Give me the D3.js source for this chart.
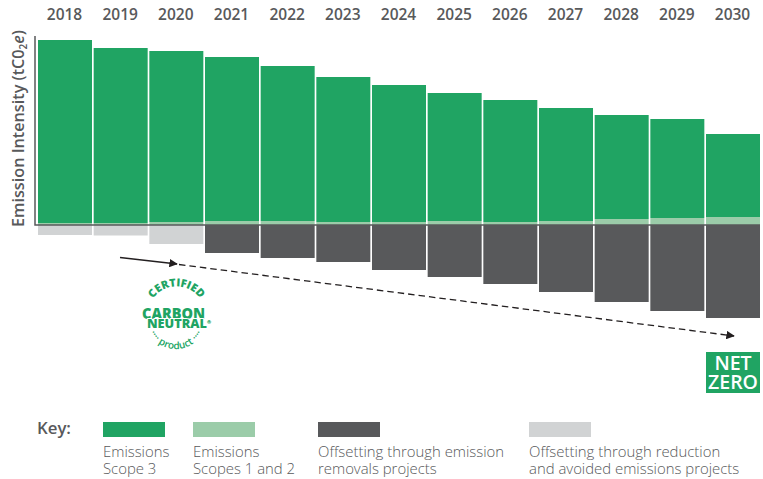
<!DOCTYPE html>
<html>
<head>
<meta charset="utf-8">
<script src="https://cdn.jsdelivr.net/npm/d3@7"></script>
<style>
  html, body { margin: 0; padding: 0; background: #fff; }
  svg { display: block; font-family: "Open Sans", sans-serif; }
</style>
</head>
<body>
<div id="chart_div"></div>
<script>
var years = [2018, 2019, 2020, 2021, 2022, 2023, 2024, 2025, 2026, 2027, 2028, 2029, 2030];
var scope3 = [183, 175, 171, 164, 155, 145, 137, 128, 122, 113, 104, 99, 83];
var scope12 = [2, 2, 3, 4, 4, 3, 3, 4, 3, 4, 6, 7, 8];
var removals = [0, 0, 0, 28, 33, 37, 45, 52, 59, 67, 77, 86, 93];
var avoided = [10, 10.5, 19, 0, 0, 0, 0, 0, 0, 0, 0, 0, 0];

var keyLabels = [
    ["Emissions", "Scope 3"],
    ["Emissions", "Scopes 1 and 2"],
    ["Offsetting through emission", "removals projects"],
    ["Offsetting through reduction", "and avoided emissions projects"]
];
var colors = ["#20a463", "#9bcca9", "#58595b", "#d1d3d4"];

var width = 763, height = 479;

var svg = d3.select("#chart_div").append("svg")
    .attr("width", width)
    .attr("height", height)
    .attr("viewBox", [0, 0, width, height]);

var x = d3.scaleBand().domain(years).range([38, 760]).paddingInner(0.03);
var y = d3.scaleLinear().domain([-100, 190]).range([325, 35]);

// positive stack
svg.append("g").selectAll("rect").data(years).join("rect")
    .attr("x", d => x(d))
    .attr("width", x.bandwidth())
    .attr("y", (d, i) => y(scope3[i] + scope12[i]))
    .attr("height", (d, i) => y(scope12[i]) - y(scope3[i] + scope12[i]))
    .attr("fill", colors[0]);

svg.append("g").selectAll("rect").data(years).join("rect")
    .attr("x", d => x(d))
    .attr("width", x.bandwidth())
    .attr("y", (d, i) => y(scope12[i]))
    .attr("height", (d, i) => y(0) - y(scope12[i]))
    .attr("fill", colors[1]);

// offsets below the line
svg.append("g").selectAll("rect").data(years).join("rect")
    .attr("x", d => x(d))
    .attr("width", x.bandwidth())
    .attr("y", y(0))
    .attr("height", (d, i) => y(-removals[i]) - y(0))
    .attr("fill", colors[2]);

svg.append("g").selectAll("rect").data(years).join("rect")
    .attr("x", d => x(d))
    .attr("width", x.bandwidth())
    .attr("y", y(0))
    .attr("height", (d, i) => y(-avoided[i]) - y(0))
    .attr("fill", colors[3]);

// axes
svg.append("path")
    .attr("d", d3.line()([[35, 36], [35, y(0)], [760, y(0)]]))
    .attr("fill", "none")
    .attr("stroke", "#58595b")
    .attr("stroke-width", 1.5);

svg.append("g")
    .attr("transform", "translate(-0.5,19.5)")
    .call(d3.axisTop(x).tickSize(0).tickPadding(0))
    .call(g => g.select(".domain").remove())
    .call(g => g.selectAll("text")
        .attr("font-family", "Open Sans")
        .attr("font-size", 15.5)
        .attr("font-weight", 600)
        .attr("fill", "#58595b"));

// y label
var yLabel = svg.append("text")
    .attr("transform", "translate(24,227) rotate(-90)")
    .attr("font-size", 16.2)
    .attr("font-weight", 600)
    .attr("fill", "#58595b");
yLabel.append("tspan").text("Emission Intensity (tC0");
yLabel.append("tspan").attr("font-size", 10).attr("dy", 3).text("2");
yLabel.append("tspan").attr("font-style", "italic").attr("dy", -3).text("e");
yLabel.append("tspan").text(")");

// arrows
var defs = svg.append("defs");
defs.append("marker")
    .attr("id", "arrow")
    .attr("viewBox", "0 0 10 10")
    .attr("refX", 9).attr("refY", 5)
    .attr("markerUnits", "userSpaceOnUse")
    .attr("markerWidth", 8.5).attr("markerHeight", 8.5)
    .attr("orient", "auto")
    .append("path").attr("d", "M0,0L10,5L0,10Z").attr("fill", "#231f20");

svg.append("line")
    .attr("x1", 120).attr("y1", 257.5).attr("x2", 177).attr("y2", 264)
    .attr("stroke", "#231f20").attr("stroke-width", 1.3)
    .attr("marker-end", "url(#arrow)");

svg.append("line")
    .attr("x1", 179).attr("y1", 264.5).attr("x2", 734).attr("y2", 336)
    .attr("stroke", "#231f20").attr("stroke-width", 1.3)
    .attr("stroke-dasharray", "6.5 4")
    .attr("marker-end", "url(#arrow)");

// certified logo
var logo = svg.append("g").attr("fill", colors[0]);
defs.append("path").attr("id", "arcTop").attr("d", "M148,310A29,29 0 0 1 205,310");
defs.append("path").attr("id", "arcBottom").attr("d", "M150,333A29,29 0 0 0 202,333");

logo.append("text")
    .attr("font-size", 11).attr("font-weight", 800)
    .append("textPath").attr("href", "#arcTop").attr("startOffset", "50%")
    .attr("text-anchor", "middle").text("CERTIFIED");

logo.append("text")
    .attr("x", 142).attr("y", 319)
    .attr("font-size", 15).attr("font-weight", 800)
    .attr("textLength", 63).attr("lengthAdjust", "spacingAndGlyphs")
    .text("CARBON");

var neutral = logo.append("text")
    .attr("x", 147).attr("y", 327.5)
    .attr("font-size", 12.5).attr("font-weight", 800)
    .attr("stroke", "#fff").attr("stroke-width", 2).attr("paint-order", "stroke");
neutral.append("tspan")
    .attr("textLength", 60).attr("lengthAdjust", "spacingAndGlyphs")
    .text("NEUTRAL");
neutral.append("tspan")
    .attr("font-size", 5).attr("dy", -4).attr("stroke", "none")
    .text("®");

logo.append("text")
    .attr("font-size", 10).attr("font-weight", 600)
    .append("textPath").attr("href", "#arcBottom").attr("startOffset", "50%")
    .attr("text-anchor", "middle").text("···· product ····");

// net zero badge
var badge = svg.append("g");
badge.append("rect")
    .attr("x", x(2030)).attr("y", 352)
    .attr("width", x.bandwidth()).attr("height", 41)
    .attr("fill", colors[0]);
badge.selectAll("text").data(["NET", "ZERO"]).join("text")
    .attr("x", x(2030) + x.bandwidth() / 2)
    .attr("y", (d, i) => 369.5 + i * 19.5)
    .attr("text-anchor", "middle")
    .attr("font-size", 19.5)
    .attr("font-weight", 600)
    .attr("fill", "#fff")
    .text(d => d);

// key
var keyX = d3.scaleOrdinal().domain(d3.range(4)).range([103, 193, 318, 529]);

svg.append("text")
    .attr("x", 37).attr("y", 434)
    .attr("font-size", 16.8)
    .attr("font-weight", 600)
    .attr("fill", "#58595b")
    .text("Key:");

var key = svg.append("g").selectAll("g").data(keyLabels).join("g")
    .attr("transform", (d, i) => `translate(${keyX(i)},0)`);

key.append("rect")
    .attr("y", 422).attr("width", 62).attr("height", 15)
    .attr("fill", (d, i) => colors[i]);

key.each(function(d) {
    d3.select(this).selectAll("text").data(d).join("text")
        .attr("y", (t, j) => 457 + j * 17)
        .attr("font-size", 14.9)
        .attr("font-weight", 300)
        .attr("fill", "#58595b")
        .text(t => t);
});
</script>
</body>
</html>
